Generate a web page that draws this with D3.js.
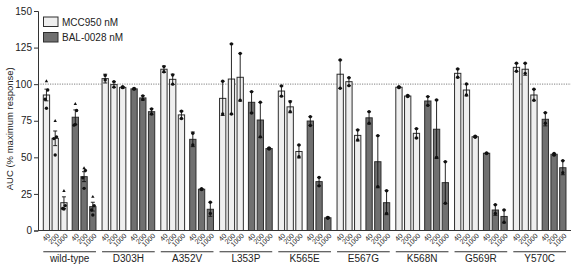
<!DOCTYPE html>
<html lang="en">
<head>
<meta charset="UTF-8">
<title>AUC by variant</title>
<script src="https://d3js.org/d3.v7.min.js"></script>
<style>
  body { margin: 0; background: #fff; font-family: "Liberation Sans", Arial, sans-serif; }
  svg text { fill: #222; }
</style>
</head>
<body>
<div id="chart"></div>
<script>
// ---- data ----
const groups = ["wild-type", "D303H", "A352V", "L353P", "K565E", "E567G", "K568N", "G569R", "Y570C"];
const doses = ["40", "200", "1000"];
const yTicks = [0, 25, 50, 75, 100, 125, 150];

// mean AUC per group, doses 40/200/1000 nM
const mccMean = [[92.6, 63, 19], [103.8, 99.7, 97.8], [110.2, 103.3, 79], [90.3, 103.5, 104.7], [95.3, 84.5, 54],
                 [106.8, 101.7, 65], [97.9, 91.9, 66.4], [107.4, 96, 64.1], [111.5, 110.2, 92.6]];
const balMean = [[77.4, 36.8, 16.3], [96.8, 90.6, 81.2], [62.3, 28.2, 14.5], [87.6, 75.5, 56], [74.8, 33.4, 8.7],
                 [77, 47, 19], [88.5, 69.2, 32.7], [52.8, 14, 9.6], [76, 52.1, 42.9]];
const mccErr = [[4, 5, 4], [3, 2, 0.6], [2.2, 3.5, 2.7], [11.7, 24, 16.3], [3.5, 4, 4.4],
                [9.7, 2.7, 3.8], [0.4, 0.5, 3.2], [3, 4, 0.5], [2.8, 4.1, 3.9]];
const balErr = [[5, 3.4, 3], [0.5, 1.5, 2], [5, 0.5, 4.8], [7.3, 12, 0.5], [3, 2.9, 0.5],
                [4.2, 17.8, 8.2], [3, 20, 14.3], [0.2, 3.6, 4.4], [4.5, 0.6, 4.8]];
// individual replicates
const mccPts = [
  [[102, 96, 89.7, 83.5], [74.8, 64, 62.8, 51.6], [27, 17, 15, 14.7]],
  [[106, 102.9], [101.7, 98], [98.2, 97.6]],
  [[112, 108.5], [106.3, 100], [81.5, 76.5]],
  [[102, 79.6], [127.5, 79.6], [121, 89]],
  [[98.8, 91.8], [88, 81.2], [58.4, 50.4]],
  [[116.5, 97.2], [104.4, 99], [68.7, 61.9]],
  [[98.2, 97.6], [92.3, 91.5], [69.6, 63.2]],
  [[110.4, 104.7], [100.1, 92.6], [64.5, 63.7]],
  [[114.3, 108.8], [114.3, 107.4], [96.5, 89]]
];
const balPts = [
  [[86.5, 82, 72, 72.5], [42.5, 41, 36, 28.8], [23, 17, 14, 10.6]],
  [[97, 96.6], [92, 89.6], [83, 79.6]],
  [[66.5, 58.5], [28.5, 28], [19.3, 11.7]],
  [[94.9, 80.3], [87.6, 64], [56.5, 55.7]],
  [[77.8, 71.8], [36.3, 30.5], [9, 8.4]],
  [[81.2, 73.3], [64.8, 30], [27.2, 11.7]],
  [[91.5, 85.5], [89.2, 50], [47, 18.6]],
  [[53, 52.6], [17.6, 11.7], [14, 5.6]],
  [[80.5, 73.3], [52.7, 51.5], [47.7, 39.5]]
];

const width = 575, height = 269;
const margin = { top: 11, right: 4, bottom: 38.5, left: 38 };
const barW = 6.3;

const svg = d3.select("#chart").append("svg")
    .attr("width", width)
    .attr("height", height);

const y = d3.scaleLinear().domain([0, 150]).range([height - margin.bottom, margin.top]);
const xGroup = d3.scaleBand().domain(groups).range([43.3, 43.3 + 58.75 * 9]).paddingInner(0);
// slot positions inside a group (3 light bars, small gap, 3 dark bars)
const xSlot = d3.scaleLinear().domain([0, 1]).range([0, 8.75]);
const slots = [0, 1, 2, 3.3, 4.3, 5.3];

const bars = [];
groups.forEach((g, gi) => {
  doses.forEach((d, di) => {
    bars.push({ g, dose: d, set: "mcc", slot: slots[di], v: mccMean[gi][di], e: mccErr[gi][di], pts: mccPts[gi][di] });
  });
  doses.forEach((d, di) => {
    bars.push({ g, dose: d, set: "bal", slot: slots[di + 3], v: balMean[gi][di], e: balErr[gi][di], pts: balPts[gi][di] });
  });
});
const bx = d => xGroup(d.g) + xSlot(d.slot);

// reference line at 100
svg.append("line")
    .attr("x1", margin.left).attr("x2", width - margin.right)
    .attr("y1", y(100)).attr("y2", y(100))
    .attr("stroke", "#9a9a9a").attr("stroke-width", 1.2)
    .attr("stroke-dasharray", "1.2,1.2");

// bars
svg.selectAll(".bar").data(bars).enter().append("rect")
    .attr("class", "bar")
    .attr("x", bx)
    .attr("y", d => y(d.v))
    .attr("width", barW)
    .attr("height", d => y(0) - y(d.v))
    .attr("fill", d => d.set === "mcc" ? "#efefef" : "#707070")
    .attr("stroke", "#2e2e2e")
    .attr("stroke-width", 1);

// error bars
const eb = svg.selectAll(".err").data(bars).enter().append("g").attr("class", "err")
    .attr("stroke", "#111").attr("stroke-width", 0.9);
eb.append("line")
    .attr("x1", d => bx(d) + barW / 2).attr("x2", d => bx(d) + barW / 2)
    .attr("y1", d => y(d.v - d.e)).attr("y2", d => y(d.v + d.e));
eb.append("line")
    .attr("x1", d => bx(d) + barW / 2 - 2).attr("x2", d => bx(d) + barW / 2 + 2)
    .attr("y1", d => y(d.v + d.e)).attr("y2", d => y(d.v + d.e));
eb.append("line")
    .attr("x1", d => bx(d) + barW / 2 - 2).attr("x2", d => bx(d) + barW / 2 + 2)
    .attr("y1", d => y(d.v - d.e)).attr("y2", d => y(d.v - d.e));

// replicate points
const pts = bars.flatMap(b => b.pts.map((p, i) => ({ b, p, i, n: b.pts.length })));
svg.selectAll(".pt").data(pts).enter().append("path")
    .attr("class", "pt")
    .attr("transform", d => {
      const off = d.n > 2 ? [0, 1, -1, 0][d.i] * 1.3 : 0;
      return `translate(${bx(d.b) + barW / 2 + off},${y(d.p)})`;
    })
    .attr("d", d => d3.symbol().type(d.n > 2 && d.i === 0 ? d3.symbolTriangle : d3.symbolCircle).size(d.n > 2 && d.i === 0 ? 5 : 9)())
    .attr("fill", "#111");

// y axis
const yAxis = svg.append("g")
    .attr("transform", `translate(${margin.left},0)`)
    .call(d3.axisLeft(y).tickValues(yTicks).tickSize(4).tickPadding(2));
yAxis.select(".domain").attr("stroke", "#333");
yAxis.selectAll(".tick line").attr("stroke", "#333");
yAxis.selectAll("text").style("font-size", "10px").style("fill", "#222");

// x axis baseline
svg.append("line")
    .attr("x1", margin.left).attr("x2", width - margin.right)
    .attr("y1", y(0)).attr("y2", y(0))
    .attr("stroke", "#333").attr("stroke-width", 1);

// dose tick labels
svg.selectAll(".dose").data(bars).enter().append("text")
    .attr("class", "dose")
    .attr("transform", d => `translate(${bx(d) + barW / 2 + 2.5},${y(0) + 4}) rotate(-45)`)
    .attr("text-anchor", "end")
    .attr("dy", "0.35em")
    .style("font-size", "7px")
    .text(d => d.dose);

// group underlines and labels
const gg = svg.selectAll(".grp").data(groups).enter().append("g").attr("class", "grp");
gg.append("line")
    .attr("x1", d => xGroup(d)).attr("x2", d => xGroup(d) + xSlot(5.3) + barW)
    .attr("y1", 251.7).attr("y2", 251.7)
    .attr("stroke", "#333").attr("stroke-width", 1.1);
gg.append("text")
    .attr("x", d => xGroup(d) + (xSlot(5.3) + barW) / 2)
    .attr("y", 262)
    .attr("text-anchor", "middle")
    .style("font-size", "10px")
    .text(d => d);

// y title
svg.append("text")
    .attr("transform", `translate(13,${(y(0) + y(150)) / 2 + 8}) rotate(-90)`)
    .attr("text-anchor", "middle")
    .style("font-size", "9.5px")
    .text("AUC (% maximum response)");

// legend
const legend = [{ label: "MCC950 nM", fill: "#efefef" }, { label: "BAL-0028 nM", fill: "#707070" }];
const lg = svg.selectAll(".leg").data(legend).enter().append("g").attr("class", "leg")
    .attr("transform", (d, i) => `translate(43.5,${17 + i * 15.5})`);
lg.append("rect").attr("width", 14.5).attr("height", 9.5)
    .attr("fill", d => d.fill).attr("stroke", "#2e2e2e").attr("stroke-width", 1);
lg.append("text").attr("x", 18.5).attr("y", 8.5)
    .style("font-size", "10px")
    .text(d => d.label);
</script>
</body>
</html>
